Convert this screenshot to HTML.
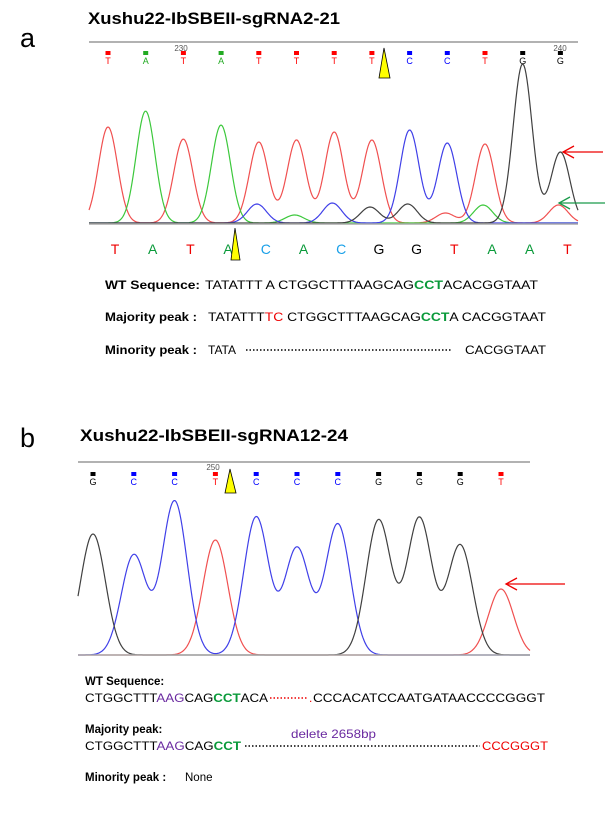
<!DOCTYPE html>
<html><head><meta charset="utf-8"><style>
body{margin:0;background:#fff}
svg{display:block;font-family:"Liberation Sans",Arial,sans-serif}
</style></head><body>
<svg id="fig" width="607" height="823" viewBox="0 0 607 823" xmlns="http://www.w3.org/2000/svg">
<rect width="607" height="823" fill="#fff"/>
<text x="20" y="47" font-size="27">a</text>
<text x="88" y="24" font-size="17" font-weight="bold" textLength="252" lengthAdjust="spacingAndGlyphs">Xushu22-IbSBEII-sgRNA2-21</text>
<line x1="89" y1="42" x2="578" y2="42" stroke="#999" stroke-width="1.5"/>
<text x="181" y="51" font-size="8" fill="#555" text-anchor="middle">230</text>
<text x="560" y="51" font-size="8" fill="#555" text-anchor="middle">240</text>
<g id="a-calls"></g>
<polygon points="384,48 379,78 390,78" fill="#ff0" stroke="#000" stroke-width="0.8"/>
<g id="a-trace"></g>
<line x1="89" y1="224" x2="578" y2="224" stroke="#aaa" stroke-width="1.5"/>
<g id="a-lower"></g>
<polygon points="235,228 231,260 240,260" fill="#ff0" stroke="#000" stroke-width="0.8"/>
<g stroke="#e00" stroke-width="1.3" fill="none"><line x1="563" y1="152" x2="603" y2="152"/><polyline points="574,146 563,152 574,158"/></g>
<g stroke="#1a9a4a" stroke-width="1.3" fill="none"><line x1="559" y1="203" x2="605" y2="203"/><polyline points="570,197 559,203 570,209"/></g>

<g font-size="12">
<text x="105" y="289" font-weight="bold" font-size="11.5" textLength="95" lengthAdjust="spacingAndGlyphs">WT Sequence:</text>
<text x="205" y="289" textLength="333" lengthAdjust="spacingAndGlyphs">TATATTT  A  CTGGCTTTAAGCAG<tspan fill="#0a9a3a" font-weight="bold">CCT</tspan>ACACGGTAAT</text>
<text x="105" y="321" font-weight="bold" font-size="11.5" textLength="92" lengthAdjust="spacingAndGlyphs">Majority peak :</text>
<text x="208" y="321" textLength="338" lengthAdjust="spacingAndGlyphs">TATATTT<tspan fill="#e00">TC</tspan>  CTGGCTTTAAGCAG<tspan fill="#0a9a3a" font-weight="bold">CCT</tspan>A CACGGTAAT</text>
<text x="105" y="354" font-weight="bold" font-size="11.5" textLength="92" lengthAdjust="spacingAndGlyphs">Minority peak :</text>
<text x="208" y="354">TATA</text>
<line x1="246" y1="350" x2="452" y2="350" stroke="#000" stroke-width="1.5" stroke-dasharray="1.5,2"/>
<text x="465" y="354" textLength="81" lengthAdjust="spacingAndGlyphs">CACGGTAAT</text>
</g>

<text x="20" y="447" font-size="27">b</text>
<text x="80" y="441" font-size="17" font-weight="bold" textLength="268" lengthAdjust="spacingAndGlyphs">Xushu22-IbSBEII-sgRNA12-24</text>
<line x1="78" y1="462" x2="530" y2="462" stroke="#999" stroke-width="1.5"/>
<text x="213" y="470" font-size="8" fill="#555" text-anchor="middle">250</text>
<g id="b-calls"></g>
<polygon points="230,469 225,493 236,493" fill="#ff0" stroke="#000" stroke-width="0.8"/>
<g id="b-trace"></g>
<line x1="78" y1="655" x2="530" y2="655" stroke="#aaa" stroke-width="1.5"/>
<g stroke="#e00" stroke-width="1.3" fill="none"><line x1="506" y1="584" x2="565" y2="584"/><polyline points="517,578 506,584 517,590"/></g>

<g font-size="12">
<text x="85" y="685" font-weight="bold" font-size="11.5">WT  Sequence:</text>
<text x="85" y="702" textLength="183" lengthAdjust="spacingAndGlyphs">CTGGCTTT<tspan fill="#6a2aa0">AAG</tspan>CAG<tspan fill="#0a9a3a" font-weight="bold">CCT</tspan>ACA</text>
<line x1="270" y1="698" x2="307" y2="698" stroke="#e00" stroke-width="1.5" stroke-dasharray="1.5,2"/>
<text x="309" y="702" fill="#e00">.</text>
<text x="313" y="702" textLength="232" lengthAdjust="spacingAndGlyphs">CCCACATCCAATGATAACCCCGGGT</text>
<text x="85" y="733" font-weight="bold" font-size="11.5">Majority peak:</text>
<text x="291" y="738" fill="#6a2aa0" textLength="85" lengthAdjust="spacingAndGlyphs">delete 2658bp</text>
<text x="85" y="750" textLength="156" lengthAdjust="spacingAndGlyphs">CTGGCTTT<tspan fill="#6a2aa0">AAG</tspan>CAG<tspan fill="#0a9a3a" font-weight="bold">CCT</tspan></text>
<line x1="245" y1="746" x2="480" y2="746" stroke="#000" stroke-width="1.5" stroke-dasharray="1.5,2"/>
<text x="482" y="750" fill="#e00" textLength="66" lengthAdjust="spacingAndGlyphs">CCCGGGT</text>
<text x="85" y="781" font-weight="bold" font-size="11.5">Minority peak :</text>
<text x="185" y="781" font-size="11.5">None</text>
</g>
</svg>
<script>
// Panel a data
const aCalls = ["T","A","T","A","T","T","T","T","C","C","T","G","G"];
const aMajorHeights = [96,107,81,94,81,83,91,83,93,80,79,154,71];
const aMinorBases = ["A","T","A","C","A","C","G","G","T","A","G","T"];
const aMinorHeights = [5,3,4,19,8,20,16,19,10,18,5,18];
const aLower = ["T","A","T","A","C","A","C","G","G","T","A","A","T"];
// Panel b data
const bCalls = ["G","C","C","T","C","C","C","G","G","G","T"];
const bHeights = [121,100,154,115,138,107,131,135,137,110,66];

const COL = {T:"#f05050",A:"#3cc83c",C:"#4040e8",G:"#404040"};
const CALLCOL = {T:"#f00",A:"#2a2",C:"#00f",G:"#000"};
const LOWCOL = {T:"#e00",A:"#0a9a3a",C:"#1aa0e8",G:"#000"};
const NS="http://www.w3.org/2000/svg";
function el(tag, attrs, parent){const e=document.createElementNS(NS,tag);for(const k in attrs)e.setAttribute(k,attrs[k]);parent.appendChild(e);return e;}

// axis functions
const aX = i => 108 + i*37.7;
const aY = h => 223 - h;
const bX = i => 93 + i*40.8;
const bY = h => 655 - h;

function trace(g, pts, xf, yf, sigma, color, x0, x1, name){
  let d="";
  for(let x=x0;x<=x1;x+=1){
    let v=0;
    pts.forEach(p=>{const dx=x-xf(p.i);v+=p.h*Math.exp(-dx*dx/(2*sigma*sigma));});
    d+=(d?"L":"M")+x+","+yf(v).toFixed(1);
  }
  const p=el("path",{d:d,fill:"none",stroke:color,"stroke-width":1.2},g);
  
  
}

// Panel a
const gac=document.getElementById("a-calls");
aCalls.forEach((b,i)=>{
  const r=el("rect",{x:aX(i)-2.5,y:51,width:5,height:4,fill:CALLCOL[b]},gac);
  
  
  const t=el("text",{x:aX(i),y:64,"font-size":9,fill:CALLCOL[b],"text-anchor":"middle"},gac);
  
  
  t.textContent=b;
});
const gat=document.getElementById("a-trace");
["T","A","C","G"].forEach(base=>{
  const pts=[];
  aCalls.forEach((b,i)=>{if(b===base)pts.push({i:i,h:aMajorHeights[i]});});
  aMinorBases.forEach((b,i)=>{if(b===base)pts.push({i:i+0.95,h:aMinorHeights[i]});});
  trace(gat,pts,aX,aY,9.5,COL[base],89,578,'trace-'+base);
});
const gal=document.getElementById("a-lower");
aLower.forEach((b,i)=>{
  const t=el("text",{x:115+i*37.7,y:254,"font-size":14,fill:LOWCOL[b],"text-anchor":"middle"},gal);
  
  
  t.textContent=b;
});

// Panel b
const gbc=document.getElementById("b-calls");
bCalls.forEach((b,i)=>{
  const r=el("rect",{x:bX(i)-2.5,y:472,width:5,height:4,fill:CALLCOL[b]},gbc);
  
  
  const t=el("text",{x:bX(i),y:485,"font-size":9,fill:CALLCOL[b],"text-anchor":"middle"},gbc);
  
  
  t.textContent=b;
});
const gbt=document.getElementById("b-trace");
["T","C","G"].forEach(base=>{
  const pts=[];
  bCalls.forEach((b,i)=>{if(b===base)pts.push({i:i,h:bHeights[i]});});
  trace(gbt,pts,bX,bY,12.5,COL[base],78,530,'trace-b-'+base);
});
</script>
</body></html>
